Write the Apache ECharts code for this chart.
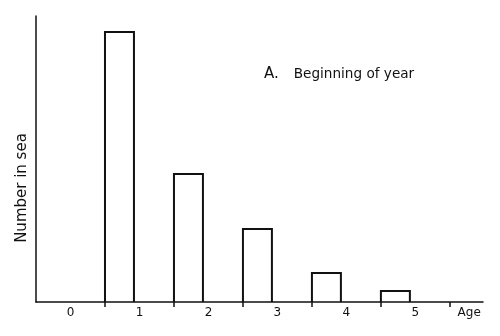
<!DOCTYPE html>
<html><head><meta charset="utf-8">
<script src="https://cdn.jsdelivr.net/npm/echarts@6/dist/echarts.min.js"></script>
<style>html,body{margin:0;padding:0;background:#fff}#c{width:500px;height:336px}</style>
</head><body><div id="c"></div>
<script>
const ages = [1, 2, 3, 4, 5];
const numberInSea = [270, 128, 73, 29, 11];
const barWidthYears = 0.42;
const tickLabels = ['0', '1', '2', '3', '4', '5', 'Age'];
const tickLabelPositions = [0.5, 1.5, 2.5, 3.5, 4.5, 5.5, 6.28];
const tickPositions = [1, 2, 3, 4, 5, 6];

const chart = echarts.init(document.getElementById('c'), null, {renderer: 'canvas'});
const font = 'DejaVu Sans';
chart.setOption({
  animation: false,
  grid: {left: 36, top: 16, right: 17, bottom: 34},
  xAxis: {
    type: 'value', min: 0, max: 6.48,
    splitLine: {show: false},
    axisLine: {lineStyle: {color: '#111', width: 1.5}},
    axisTick: {show: true, customValues: tickPositions, length: 5, lineStyle: {color: '#111', width: 1.5}},
    axisLabel: {
      customValues: tickLabelPositions, margin: 5,
      color: '#111', fontFamily: font, fontSize: 12,
      formatter: v => tickLabels[tickLabelPositions.indexOf(v)]
    }
  },
  yAxis: {
    type: 'value', min: 0, max: 286,
    splitLine: {show: false},
    axisLine: {show: true, lineStyle: {color: '#111', width: 1.5}},
    axisTick: {show: false}, axisLabel: {show: false},
    name: 'Number in sea', nameLocation: 'middle', nameGap: 6,
    nameTextStyle: {color: '#111', fontFamily: font, fontSize: 15, padding: [0, 58, 0, 0]}
  },
  graphic: [{
    type: 'text', left: 264, top: 67,
    style: {
      text: '{a|A.}{b|Beginning of year}',
      rich: {
        a: {fontFamily: font, fontSize: 15, fill: '#111'},
        b: {fontFamily: font, fontSize: 13.6, fill: '#111', padding: [0, 0, 0, 15]}
      }
    }
  }],
  series: [{
    type: 'custom',
    data: ages.map((a, i) => [a, numberInSea[i]]),
    renderItem: (params, api) => {
      const x0 = api.value(0), v = api.value(1);
      const p1 = api.coord([x0, v]);
      const p2 = api.coord([x0 + barWidthYears, 0]);
      return {
        type: 'polyline',
        shape: {points: [[p1[0], p2[1]], [p1[0], p1[1]], [p2[0], p1[1]], [p2[0], p2[1]]]},
        style: {stroke: '#111', lineWidth: 2, fill: 'none'}
      };
    }
  }]
});
</script></body></html>
